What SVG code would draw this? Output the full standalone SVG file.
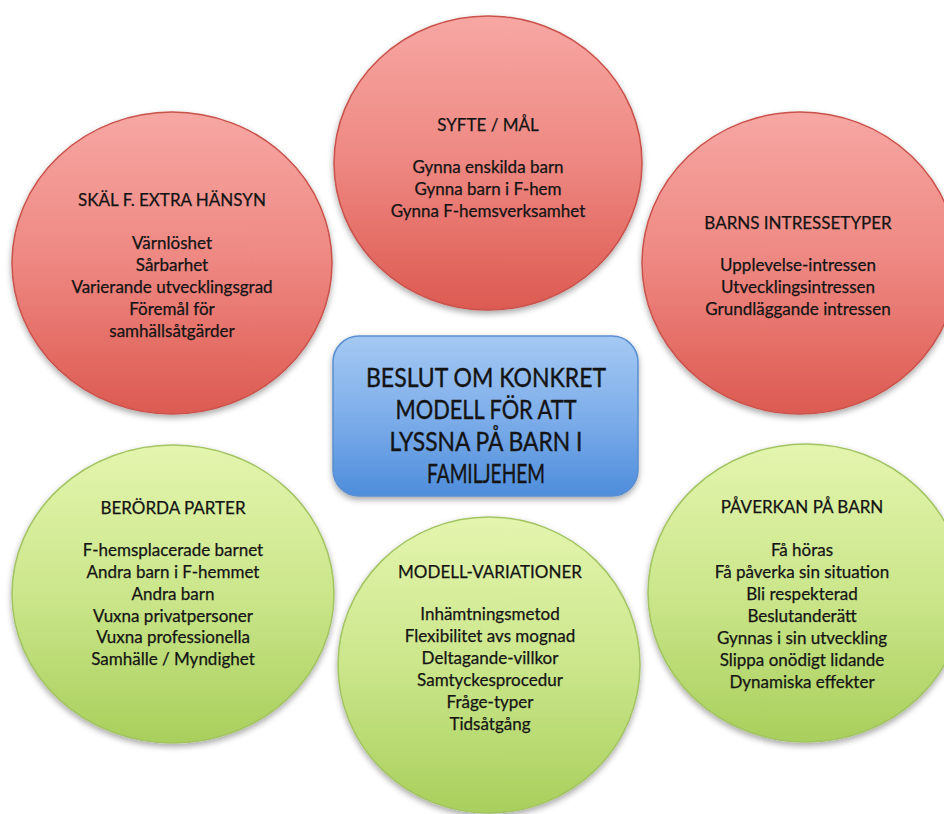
<svg xmlns="http://www.w3.org/2000/svg" width="944" height="814" viewBox="0 0 944 814">
  <defs>
    <linearGradient id="gRed" x1="0" y1="0" x2="0" y2="1">
      <stop offset="0" stop-color="#f7a7a3"/>
      <stop offset="0.5" stop-color="#ee8781"/>
      <stop offset="1" stop-color="#dc5a51"/>
    </linearGradient>
    <linearGradient id="gGreen" x1="0" y1="0" x2="0" y2="1">
      <stop offset="0" stop-color="#e4f5ae"/>
      <stop offset="0.5" stop-color="#cbe68b"/>
      <stop offset="1" stop-color="#a9cf5c"/>
    </linearGradient>
    <linearGradient id="gBlue" x1="0" y1="0" x2="0" y2="1">
      <stop offset="0" stop-color="#a4c9f3"/>
      <stop offset="0.5" stop-color="#7eaeea"/>
      <stop offset="1" stop-color="#4e8ddb"/>
    </linearGradient>
    <filter id="shadow" x="-10%" y="-10%" width="120%" height="125%">
      <feGaussianBlur in="SourceAlpha" stdDeviation="3"/>
      <feOffset dx="0" dy="3" result="b"/>
      <feComponentTransfer><feFuncA type="linear" slope="0.35"/></feComponentTransfer>
      <feMerge><feMergeNode/><feMergeNode in="SourceGraphic"/></feMerge>
    </filter>
  </defs>
  <style>
    .red { fill: url(#gRed); stroke: #c9524b; stroke-width: 1.5; filter: url(#shadow); }
    .green { fill: url(#gGreen); stroke: #a3c463; stroke-width: 1.5; filter: url(#shadow); }
    .hub { fill: url(#gBlue); stroke: #5b8fd0; stroke-width: 1.5; filter: url(#shadow); }
    text { font-family: Lato, "Open Sans", "DejaVu Sans", sans-serif; fill: #141414; stroke: #141414; stroke-width: 0.25; text-anchor: middle; }
    .t { font-size: 17px; }
    .big { font-size: 26.5px; stroke-width: 0.4; }
  </style>

  <rect width="944" height="814" fill="#ffffff"/>

  <!-- Top left: reasons -->
  <g id="node-skal">
    <ellipse class="red" cx="172" cy="263" rx="160" ry="151"/>
    <text class="t" x="172" y="206">SKÄL F. EXTRA HÄNSYN</text>
    <text class="t" x="172" y="249">Värnlöshet</text>
    <text class="t" x="172" y="271">Sårbarhet</text>
    <text class="t" x="172" y="293">Varierande utvecklingsgrad</text>
    <text class="t" x="172" y="315">Föremål för</text>
    <text class="t" x="172" y="337">samhällsåtgärder</text>
  </g>

  <!-- Top: purpose -->
  <g id="node-syfte">
    <ellipse class="red" cx="488" cy="163" rx="154" ry="147"/>
    <text class="t" x="488" y="131">SYFTE / MÅL</text>
    <text class="t" x="488" y="173">Gynna enskilda barn</text>
    <text class="t" x="488" y="195">Gynna barn i F-hem</text>
    <text class="t" x="488" y="217">Gynna F-hemsverksamhet</text>
  </g>

  <!-- Top right: interest types -->
  <g id="node-barns">
    <ellipse class="red" cx="800" cy="263" rx="158" ry="151"/>
    <text class="t" x="798" y="229">BARNS INTRESSETYPER</text>
    <text class="t" x="798" y="271">Upplevelse-intressen</text>
    <text class="t" x="798" y="293">Utvecklingsintressen</text>
    <text class="t" x="798" y="315">Grundläggande intressen</text>
  </g>

  <!-- Bottom left: parties -->
  <g id="node-berorda">
    <ellipse class="green" cx="173" cy="594" rx="161" ry="149"/>
    <text class="t" x="173" y="514">BERÖRDA PARTER</text>
    <text class="t" x="173" y="556">F-hemsplacerade barnet</text>
    <text class="t" x="173" y="578">Andra barn i F-hemmet</text>
    <text class="t" x="173" y="600">Andra barn</text>
    <text class="t" x="173" y="622">Vuxna privatpersoner</text>
    <text class="t" x="173" y="643">Vuxna professionella</text>
    <text class="t" x="173" y="665">Samhälle / Myndighet</text>
  </g>

  <!-- Bottom: model variations -->
  <g id="node-modell">
    <ellipse class="green" cx="489" cy="665" rx="151" ry="148"/>
    <text class="t" x="490" y="578">MODELL-VARIATIONER</text>
    <text class="t" x="490" y="620">Inhämtningsmetod</text>
    <text class="t" x="490" y="642">Flexibilitet avs mognad</text>
    <text class="t" x="490" y="664">Deltagande-villkor</text>
    <text class="t" x="490" y="686">Samtyckesprocedur</text>
    <text class="t" x="490" y="708">Fråge-typer</text>
    <text class="t" x="490" y="730">Tidsåtgång</text>
  </g>

  <!-- Bottom right: impact on the child -->
  <g id="node-paverkan">
    <ellipse class="green" cx="806" cy="593" rx="158" ry="149"/>
    <text class="t" x="802" y="513">PÅVERKAN PÅ BARN</text>
    <text class="t" x="802" y="556">Få höras</text>
    <text class="t" x="802" y="578">Få påverka sin situation</text>
    <text class="t" x="802" y="600">Bli respekterad</text>
    <text class="t" x="802" y="622">Beslutanderätt</text>
    <text class="t" x="802" y="644">Gynnas i sin utveckling</text>
    <text class="t" x="802" y="666">Slippa onödigt lidande</text>
    <text class="t" x="802" y="688">Dynamiska effekter</text>
  </g>

  <!-- Centre: decision box -->
  <g id="node-beslut">
    <rect class="hub" x="333" y="336" width="305" height="160" rx="26" ry="26"/>
    <text class="big" x="486" y="387" textLength="240" lengthAdjust="spacingAndGlyphs">BESLUT OM KONKRET</text>
    <text class="big" x="486" y="419" textLength="181" lengthAdjust="spacingAndGlyphs">MODELL FÖR ATT</text>
    <text class="big" x="486" y="451" textLength="193" lengthAdjust="spacingAndGlyphs">LYSSNA PÅ BARN I</text>
    <text class="big" x="486" y="483" textLength="118" lengthAdjust="spacingAndGlyphs">FAMILJEHEM</text>
  </g>

  <g id="connectors"/>
</svg>
